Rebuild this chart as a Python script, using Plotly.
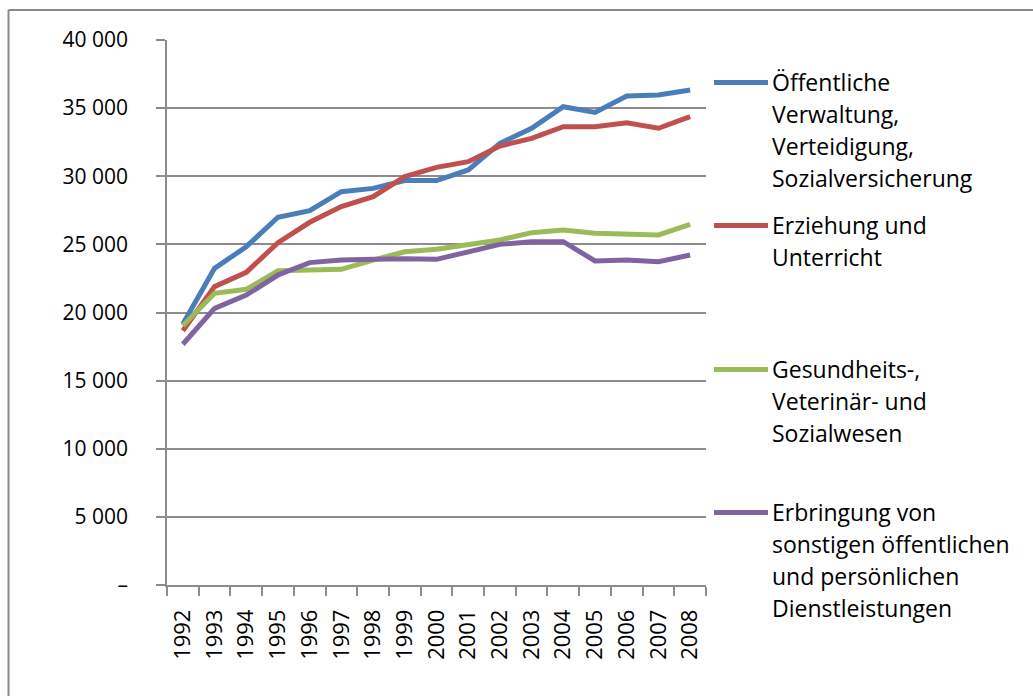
import plotly.graph_objects as go

years = [str(y) for y in range(1992, 2009)]

oeffentliche_verwaltung = [19150, 23240, 24830, 26990, 27470, 28870, 29110, 29680, 29680,
                           30460, 32420, 33520, 35100, 34690, 35890, 35960, 36330]
erziehung = [18660, 21900, 22950, 25120, 26620, 27770, 28500, 29970, 30650,
             31070, 32220, 32780, 33640, 33640, 33930, 33520, 34370]
gesundheit = [19030, 21410, 21700, 23070, 23120, 23170, 23850, 24460, 24640,
              25000, 25320, 25860, 26060, 25810, 25760, 25690, 26470]
sonstige_dienste = [17670, 20300, 21280, 22750, 23660, 23850, 23900, 23950, 23900,
                    24460, 25000, 25200, 25200, 23780, 23850, 23730, 24220]

series_names = [
    ["Öffentliche", "Verwaltung,", "Verteidigung,", "Sozialversicherung"],
    ["Erziehung und", "Unterricht"],
    ["Gesundheits-,", "Veterinär- und", "Sozialwesen"],
    ["Erbringung von", "sonstigen öffentlichen", "und persönlichen", "Dienstleistungen"],
]
series_values = [oeffentliche_verwaltung, erziehung, gesundheit, sonstige_dienste]
colors = ["#4A7EBB", "#C0504D", "#9BBB59", "#8064A2"]

y_tickvals = [0, 5000, 10000, 15000, 20000, 25000, 30000, 35000, 40000]
y_ticktext = ["–", "5 000", "10 000", "15 000", "20 000", "25 000", "30 000", "35 000", "40 000"]

W, H = 1033, 696
L, R, T, B = 167, 706, 40, 585

def xp(px):
    return (px - L) / (R - L)

def yp(py):
    return (B - py) / (B - T)

FONT = "Open Sans"
LW = 5
fig = go.Figure()
for vals, names, col in zip(series_values, series_names, colors):
    fig.add_trace(go.Scatter(
        x=years, y=vals, mode="lines", name=" ".join(names),
        line=dict(color=col, width=LW, shape="linear"),
        showlegend=False,
    ))

grid = "#8c8c8c"
fig.update_layout(
    width=W, height=H,
    margin=dict(l=L, r=W - R, t=T, b=H - B, autoexpand=False),
    paper_bgcolor="white", plot_bgcolor="white",
    font=dict(family=FONT, size=21, color="black"),
    showlegend=False,
    xaxis=dict(
        type="category", range=[-0.5, 16.5],
        showline=True, linecolor=grid, linewidth=1.5,
        ticks="outside", ticklen=9, tickwidth=1.5, tickcolor=grid,
        tickson="boundaries", tickangle=-90,
        ticklabelstandoff=14,
        showgrid=False, zeroline=False, automargin=False,
        tickfont=dict(family=FONT, size=22, color="black"),
    ),
    yaxis=dict(
        range=[0, 40000],
        tickvals=y_tickvals, ticktext=y_ticktext,
        showline=True, linecolor=grid, linewidth=1.5,
        ticks="outside", ticklen=9, tickwidth=1.5, tickcolor=grid,
        showgrid=True, gridcolor=grid, gridwidth=1.5,
        ticklabelstandoff=24,
        zeroline=False, automargin=False,
        tickfont=dict(family=FONT, size=21, color="black"),
    ),
)

# outer chart border (only top and left edges fall inside the picture)
border = "#898989"
fig.add_shape(type="line", xref="paper", yref="paper",
              x0=xp(8.5), x1=xp(1040), y0=yp(10), y1=yp(10),
              line=dict(color=border, width=2))
fig.add_shape(type="line", xref="paper", yref="paper",
              x0=xp(8.5), x1=xp(8.5), y0=yp(10), y1=yp(700),
              line=dict(color=border, width=2))

# legend (manual, Excel-like even spacing)
first_line_y = [82.5, 225.5, 369.5, 512.5]
line_gap = 32.3
for names, col, y0 in zip(series_names, colors, first_line_y):
    fig.add_shape(type="line", xref="paper", yref="paper",
                  x0=xp(714), x1=xp(768), y0=yp(y0), y1=yp(y0),
                  line=dict(color=col, width=LW))
    for i, txt in enumerate(names):
        fig.add_annotation(xref="paper", yref="paper",
                           x=xp(770), y=yp(y0 + i * line_gap - 1),
                           xanchor="left", yanchor="middle",
                           text=txt, showarrow=False,
                           font=dict(family=FONT, size=23, color="black"))

fig.write_html("out.html",
               config={"displayModeBar": False},
               post_script="document.body.style.margin='0';document.body.style.overflow='hidden';")
